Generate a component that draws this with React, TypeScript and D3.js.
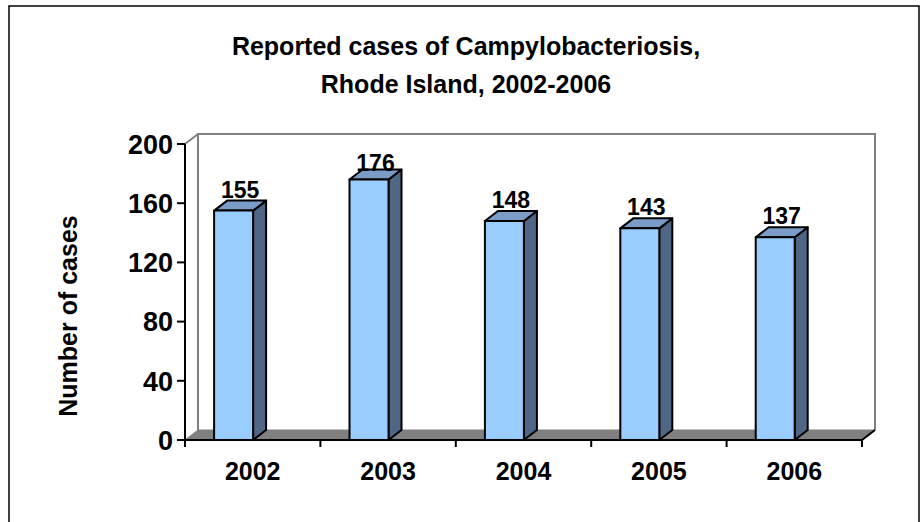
import React from "react";
import * as d3 from "d3";

const years = ["2002", "2003", "2004", "2005", "2006"];
const cases = [155, 176, 148, 143, 137];
const yTicks = [0, 40, 80, 120, 160, 200];
const titleLines = ["Reported cases of Campylobacteriosis,", "Rhode Island, 2002-2006"];
const yAxisTitle = "Number of cases";

export default function App() {
  const W = 922, H = 522;
  const left = 185, right = 862, bottom = 440, top = 144;
  const dx = 13, dy = -10;
  const x = d3.scaleBand<string>().domain(years).range([left, right]).padding(0);
  const y = d3.scaleLinear().domain([0, 200]).range([bottom, top]);
  const bw = x.bandwidth();
  const font = "'Liberation Sans', Arial, sans-serif";
  const pts = (a: number[][]) => a.map((p) => p.join(",")).join(" ");
  const labelMinBaseline = top + 27;

  return (
    <svg width={W} height={H} style={{ position: "absolute", left: 0, top: 0, background: "#fff" }} fontFamily={font}>
      <rect x={9} y={6} width={910} height={530} fill="#fff" stroke="#000" strokeWidth={1.5} />
      {titleLines.map((t, i) => (
        <text key={t} x={466} y={55 + i * 38} textAnchor="middle" fontSize={25} fontWeight="bold">{t}</text>
      ))}
      {/* back wall */}
      <polyline points={pts([[left + dx, bottom + dy], [left + dx, top + dy], [right + dx, top + dy], [right + dx, bottom + dy]])} fill="none" stroke="#808080" strokeWidth={2} />
      <line x1={left} y1={top} x2={left + dx} y2={top + dy} stroke="#808080" strokeWidth={2} />
      {/* floor */}
      <polygon points={pts([[left, bottom], [right, bottom], [right + dx, bottom + dy], [left + dx, bottom + dy]])} fill="#808080" stroke="#808080" strokeWidth={1} />
      <line x1={right} y1={bottom} x2={right + dx} y2={bottom + dy} stroke="#000" strokeWidth={2} />
      {/* bars */}
      {years.map((yr, i) => {
        const x0 = (x(yr) as number) + bw * 0.215;
        const w = bw * 0.288;
        const yt = y(cases[i]);
        return (
          <g key={yr} stroke="#000" strokeWidth={2} strokeLinejoin="round">
            <polygon points={pts([[x0 + w, bottom], [x0 + w + dx, bottom + dy], [x0 + w + dx, yt + dy], [x0 + w, yt]])} fill="#4F6685" />
            <polygon points={pts([[x0, yt], [x0 + w, yt], [x0 + w + dx, yt + dy], [x0 + dx, yt + dy]])} fill="#7A9CC6" />
            <rect x={x0} y={yt} width={w} height={bottom - yt} fill="#99CCFF" />
            <text x={x0 + w / 2 + dx / 2} y={Math.max(yt + dy - 3, labelMinBaseline)} textAnchor="middle" fontSize={23} fontWeight="bold" stroke="none" fill="#000">{cases[i]}</text>
          </g>
        );
      })}
      {/* y axis */}
      <line x1={left} y1={top} x2={left} y2={bottom} stroke="#000" strokeWidth={2} />
      {yTicks.map((t) => (
        <g key={t}>
          <line x1={left - 8} x2={left} y1={y(t)} y2={y(t)} stroke="#000" strokeWidth={2} />
          <text x={left - 12} y={y(t)} dy="0.36em" textAnchor="end" fontSize={27} fontWeight="bold">{t}</text>
        </g>
      ))}
      {/* x axis */}
      <line x1={left} y1={bottom} x2={right} y2={bottom} stroke="#000" strokeWidth={2} />
      {[...years.map((yr) => x(yr) as number), right].map((v, i) => (
        <line key={i} x1={v} x2={v} y1={bottom} y2={bottom + 7} stroke="#000" strokeWidth={2} />
      ))}
      {years.map((yr) => (
        <text key={yr} x={(x(yr) as number) + bw / 2} y={480} textAnchor="middle" fontSize={25} fontWeight="bold">{yr}</text>
      ))}
      <text transform={`translate(77,316) rotate(-90)`} textAnchor="middle" fontSize={25} fontWeight="bold">{yAxisTitle}</text>
    </svg>
  );
}
